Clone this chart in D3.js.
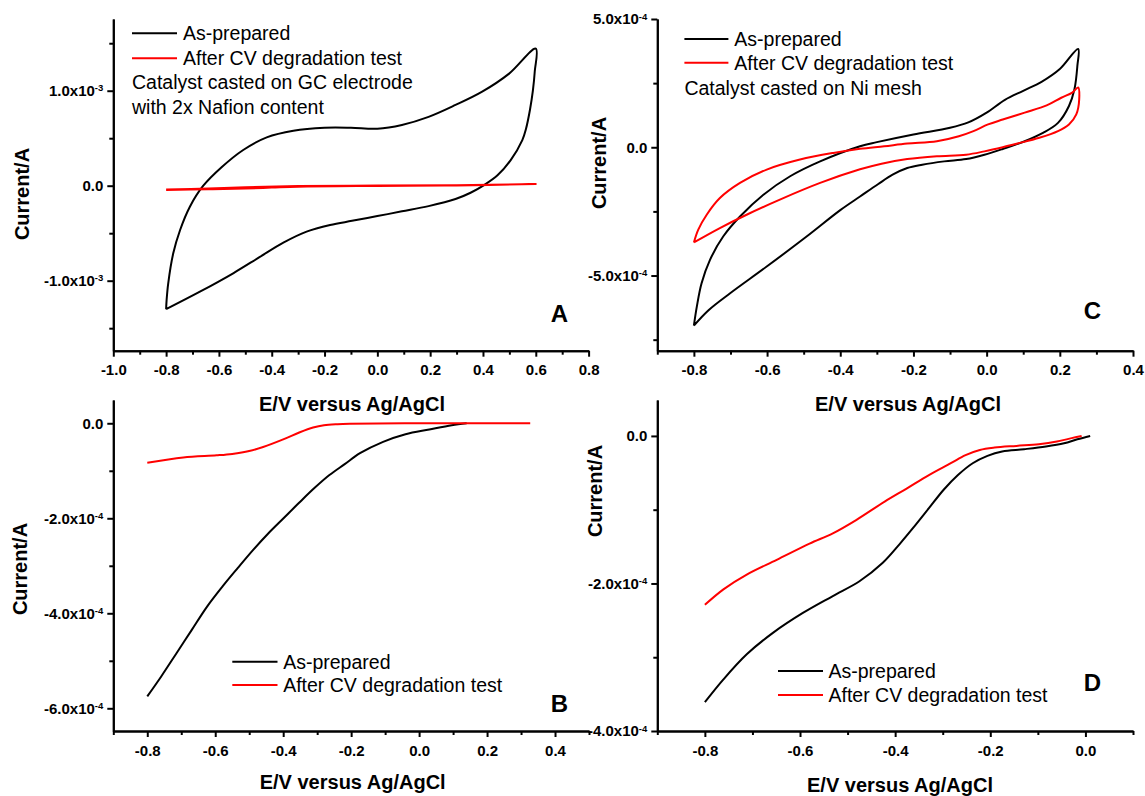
<!DOCTYPE html>
<html><head><meta charset="utf-8">
<script src="https://cdn.jsdelivr.net/npm/d3@7"></script>
<style>
body{margin:0;background:#fff;}
svg{display:block;}
text{font-family:"Liberation Sans",Arial,Helvetica,sans-serif;fill:#000;}
</style></head><body>
<svg id="chart" width="1145" height="796"></svg>
<script>
// ---------- DATA (E in V vs Ag/AgCl, current in units of 1e-4 A) ----------
const seriesNames = ["As-prepared", "After CV degradation test"];
const xTitle = "E/V versus Ag/AgCl";
const yTitle = "Current/A";

// Panel A: CV, catalyst on GC electrode (2x Nafion)
const A_prep_E = [-0.8,-0.798,-0.792,-0.773,-0.747,-0.71,-0.66,-0.59,-0.508,-0.419,-0.318,-0.2,-0.1,0.0,0.093,0.194,0.296,0.397,0.499,0.6,
                  0.596,0.589,0.578,0.563,0.549,0.505,0.455,0.404,0.353,0.296,0.194,0.093,0.0,-0.096,-0.179,-0.268,-0.356,-0.445,-0.546,-0.672,-0.8];
const A_prep_I = [-13.0,-12.0,-10.27,-7.12,-4.66,-2.21,-0.03,1.94,3.76,5.09,5.79,6.1,6.1,6.0,6.4,7.25,8.5,9.9,11.8,14.43,
                  12.0,10.0,8.0,6.0,4.8,2.7,1.1,0.07,-0.74,-1.4,-2.15,-2.7,-3.2,-3.7,-4.14,-4.84,-6.0,-7.5,-9.22,-11.16,-13.0];
const A_deg_E = [-0.8,-0.64,-0.5,-0.3,0.0,0.3,0.6,0.3,0.0,-0.3,-0.4,-0.5,-0.64,-0.8];
const A_deg_I = [-0.4,-0.3,-0.15,-0.03,0.02,0.06,0.18,0.03,-0.02,-0.1,-0.2,-0.3,-0.38,-0.45];
const A_xTicks = [-1.0,-0.8,-0.6,-0.4,-0.2,0.0,0.2,0.4,0.6,0.8];
const A_xMinor = [-0.9,-0.7,-0.5,-0.3,-0.1,0.1,0.3,0.5,0.7];
const A_yTicks = [-10, 0, 10];
const A_yLabels = [["-1.0x10","-3"],["0.0",""],["1.0x10","-3"]];
const A_yMinor = [-15,-5,5,15];
const A_note = ["Catalyst casted on GC electrode", "with 2x Nafion content"];

// Panel C: CV, catalyst on Ni mesh
const C_prep_E = [-0.8,-0.792,-0.779,-0.756,-0.72,-0.674,-0.61,-0.537,-0.455,-0.346,-0.3,-0.2,-0.1,-0.05,0.0,0.05,0.1,0.15,0.2,0.25,
                  0.248,0.24,0.225,0.195,0.154,0.104,0.044,-0.006,-0.056,-0.116,-0.176,-0.217,-0.257,-0.297,-0.346,-0.4,-0.492,-0.601,-0.701,-0.76,-0.8];
const C_prep_I = [-6.95,-6.21,-5.30,-4.39,-3.48,-2.70,-1.85,-1.13,-0.55,0.04,0.2,0.5,0.76,0.97,1.35,1.85,2.2,2.55,3.05,3.83,
                  3.18,2.26,1.61,0.95,0.56,0.235,-0.065,-0.29,-0.46,-0.55,-0.68,-0.81,-1.07,-1.44,-1.92,-2.45,-3.48,-4.65,-5.69,-6.35,-6.95];
const C_deg_E = [-0.8,-0.788,-0.765,-0.729,-0.674,-0.601,-0.51,-0.419,-0.346,-0.28,-0.217,-0.136,-0.076,-0.036,0.004,0.044,0.104,0.164,0.204,0.234,0.25,
                 0.253,0.245,0.225,0.195,0.144,0.084,0.044,-0.006,-0.056,-0.136,-0.217,-0.287,-0.346,-0.455,-0.565,-0.656,-0.729,-0.8];
const C_deg_I = [-3.71,-3.21,-2.63,-1.98,-1.39,-0.87,-0.48,-0.22,-0.06,0.04,0.144,0.235,0.43,0.63,0.89,1.08,1.35,1.63,1.93,2.13,2.33,
                 1.87,1.28,0.89,0.63,0.37,0.144,0.0,-0.16,-0.29,-0.35,-0.46,-0.64,-0.86,-1.39,-2.04,-2.63,-3.15,-3.71];
const C_xTicks = [-0.8,-0.6,-0.4,-0.2,0.0,0.2,0.4];
const C_xMinor = [-0.9,-0.7,-0.5,-0.3,-0.1,0.1,0.3];
const C_yTicks = [-5, 0, 5];
const C_yLabels = [["-5.0x10","-4"],["0.0",""],["5.0x10","-4"]];
const C_yMinor = [-7.5,-2.5,2.5];
const C_note = ["Catalyst casted on Ni mesh"];

// Panel B: LSV, GC electrode
const B_prep_E = [-0.8,-0.759,-0.714,-0.669,-0.624,-0.579,-0.534,-0.489,-0.444,-0.399,-0.354,-0.309,-0.264,-0.219,-0.174,-0.106,-0.04,0.03,0.096,0.14];
const B_prep_I = [-5.75,-5.33,-4.84,-4.35,-3.86,-3.44,-3.05,-2.67,-2.32,-2.0,-1.68,-1.37,-1.09,-0.86,-0.63,-0.39,-0.23,-0.13,-0.04,0.0];
const B_deg_E = [-0.8,-0.694,-0.596,-0.55,-0.5,-0.459,-0.4,-0.351,-0.312,-0.28,-0.24,-0.204,0.032,0.327];
const B_deg_I = [-0.83,-0.72,-0.675,-0.645,-0.585,-0.5,-0.34,-0.19,-0.09,-0.04,-0.018,-0.01,0.0,0.0];
const B_xTicks = [-0.8,-0.6,-0.4,-0.2,0.0,0.2,0.4];
const B_xMinor = [-0.9,-0.7,-0.5,-0.3,-0.1,0.1,0.3,0.5];
const B_yTicks = [-6,-4,-2,0];
const B_yLabels = [["-6.0x10","-4"],["-4.0x10","-4"],["-2.0x10","-4"],["0.0",""]];
const B_yMinor = [-5,-3,-1];

// Panel D: LSV, Ni mesh
const D_prep_E = [-0.8,-0.761,-0.712,-0.657,-0.594,-0.531,-0.475,-0.426,-0.391,-0.36,-0.329,-0.298,-0.268,-0.237,-0.206,-0.175,-0.129,-0.083,-0.045,-0.017,0.01];
const D_prep_I = [-3.61,-3.30,-2.96,-2.67,-2.40,-2.17,-1.97,-1.72,-1.47,-1.23,-0.98,-0.73,-0.53,-0.37,-0.27,-0.21,-0.18,-0.144,-0.10,-0.045,0.0];
const D_deg_E = [-0.8,-0.761,-0.712,-0.649,-0.58,-0.531,-0.482,-0.422,-0.375,-0.329,-0.283,-0.252,-0.222,-0.191,-0.145,-0.098,-0.06,-0.029,-0.008];
const D_deg_I = [-2.29,-2.08,-1.88,-1.68,-1.46,-1.32,-1.14,-0.89,-0.71,-0.53,-0.37,-0.26,-0.19,-0.158,-0.135,-0.113,-0.077,-0.03,0.0];
const D_xTicks = [-0.8,-0.6,-0.4,-0.2,0.0];
const D_xMinor = [-0.9,-0.7,-0.5,-0.3,-0.1,0.1];
const D_yTicks = [-4,-2,0];
const D_yLabels = [["-4.0x10","-4"],["-2.0x10","-4"],["0.0",""]];
const D_yMinor = [-3,-1];

// ---------- LAYOUT ----------
const colors = ["#000000", "#ff0000"];
const zip = (E, I) => E.map((e, i) => [e, I[i]]);

const panels = [
  {letter:"A", left:113.3, right:588.6, top:19, bottom:350.7, xDom:[-1.0,0.8], yDom:[-17.37,17.55],
   xTicks:A_xTicks, xMinor:A_xMinor, yTicks:A_yTicks, yLabels:A_yLabels, yMinor:A_yMinor,
   series:[zip(A_prep_E,A_prep_I), zip(A_deg_E,A_deg_I)],
   leg:{x1:132, x2:177, y:33.3, dy:25, tx:183}, note:A_note, noteX:132, noteY:82.3,
   letterPos:[559.5,313], xTitlePos:[352,403.5], yTitlePos:[22,194]},
  {letter:"C", left:657.3, right:1133, top:19, bottom:350.7, xDom:[-0.9,0.4], yDom:[-7.93,5.0],
   xTicks:C_xTicks, xMinor:C_xMinor, yTicks:C_yTicks, yLabels:C_yLabels, yMinor:C_yMinor,
   series:[zip(C_prep_E,C_prep_I), zip(C_deg_E,C_deg_I)],
   leg:{x1:684.4, x2:728.4, y:39, dy:23.7, tx:734.3}, note:C_note, noteX:684.4, noteY:88.3,
   letterPos:[1092.5,310], xTitlePos:[908,403.5], yTitlePos:[598.5,163]},
  {letter:"B", left:113.3, right:589, top:400, bottom:731, xDom:[-0.9,0.5], yDom:[-6.478,0.49],
   xTicks:B_xTicks, xMinor:B_xMinor, yTicks:B_yTicks, yLabels:B_yLabels, yMinor:B_yMinor,
   series:[zip(B_prep_E,B_prep_I), zip(B_deg_E,B_deg_I)],
   leg:{x1:232.3, x2:277.5, y:661.7, dy:23.3, tx:283.2}, note:[], noteX:0, noteY:0,
   letterPos:[559.5,703.3], xTitlePos:[352.7,781.7], yTitlePos:[20,569]},
  {letter:"D", left:657.3, right:1133, top:400, bottom:731, xDom:[-0.9,0.1], yDom:[-4.0,0.487],
   xTicks:D_xTicks, xMinor:D_xMinor, yTicks:D_yTicks, yLabels:D_yLabels, yMinor:D_yMinor,
   series:[zip(D_prep_E,D_prep_I), zip(D_deg_E,D_deg_I)],
   leg:{x1:778, x2:823, y:671, dy:24, tx:828.5}, note:[], noteX:0, noteY:0,
   letterPos:[1092.5,682.7], xTitlePos:[900,785], yTitlePos:[595,491]}
];

const svg = d3.select("#chart");
const fmtX = v => (Math.abs(v) < 1e-9 ? 0 : v).toFixed(1);

panels.forEach(p => {
  const g = svg.append("g");
  const x = d3.scaleLinear().domain(p.xDom).range([p.left, p.right]);
  const y = d3.scaleLinear().domain(p.yDom).range([p.bottom, p.top]);

  // curves
  const line = d3.line().x(d => x(d[0])).y(d => y(d[1])).curve(d3.curveCatmullRom.alpha(0.5));
  p.series.forEach((s, i) => {
    g.append("path").attr("d", line(s)).attr("fill", "none")
      .attr("stroke", colors[i]).attr("stroke-width", 2).attr("stroke-linejoin", "round");
  });

  // x axis
  const xMin = g.append("g").attr("transform", `translate(0,${p.bottom})`)
    .call(d3.axisBottom(x).tickValues(p.xMinor).tickSize(4).tickSizeOuter(0).tickFormat(""));
  const xMaj = g.append("g").attr("transform", `translate(0,${p.bottom})`)
    .call(d3.axisBottom(x).tickValues(p.xTicks).tickSize(6).tickSizeOuter(0).tickFormat(fmtX));
  xMaj.attr("font-size", null).attr("font-family", null);
  xMaj.selectAll("text").attr("y", 14).attr("dy", "0.72em")
    .style("font-size", "15px").style("font-weight", "bold").attr("fill", "#000");

  // y axis
  const yMin = g.append("g").attr("transform", `translate(${p.left},0)`)
    .call(d3.axisLeft(y).tickValues(p.yMinor).tickSize(4).tickSizeOuter(0).tickFormat(""));
  const yMaj = g.append("g").attr("transform", `translate(${p.left},0)`)
    .call(d3.axisLeft(y).tickValues(p.yTicks).tickSize(6).tickSizeOuter(0).tickFormat(""));
  [xMin, xMaj, yMin, yMaj].forEach(a => {
    a.select(".domain").attr("stroke", "#000").attr("stroke-width", 2);
    a.selectAll(".tick line").attr("stroke", "#000").attr("stroke-width", 2);
  });
  // y tick labels with superscript exponent
  p.yTicks.forEach((v, i) => {
    const t = g.append("text").attr("x", p.left - 10).attr("y", y(v)).attr("dy", "0.36em")
      .attr("text-anchor", "end").style("font-size", "15px").style("font-weight", "bold");
    t.append("tspan").text(p.yLabels[i][0]);
    if (p.yLabels[i][1]) {
      t.append("tspan").attr("dy", "-0.5em").style("font-size", "9.5px").text(p.yLabels[i][1]);
    }
  });

  // axis titles
  g.append("text").attr("x", p.xTitlePos[0]).attr("y", p.xTitlePos[1]).attr("dy", "0.36em")
    .attr("text-anchor", "middle").style("font-size", "20px").style("font-weight", "bold").text(xTitle);
  g.append("text").attr("transform", `translate(${p.yTitlePos[0]},${p.yTitlePos[1]}) rotate(-90)`)
    .attr("dy", "0.36em").attr("text-anchor", "middle")
    .style("font-size", "20px").style("font-weight", "bold").text(yTitle);

  // legend
  seriesNames.forEach((name, i) => {
    const ly = p.leg.y + i * p.leg.dy;
    g.append("line").attr("x1", p.leg.x1).attr("x2", p.leg.x2).attr("y1", ly).attr("y2", ly)
      .attr("stroke", colors[i]).attr("stroke-width", 2);
    g.append("text").attr("x", p.leg.tx).attr("y", ly).attr("dy", "0.36em")
      .style("font-size", "19.5px").text(name);
  });
  p.note.forEach((s, i) => {
    g.append("text").attr("x", p.noteX).attr("y", p.noteY + i * 25).attr("dy", "0.36em")
      .style("font-size", "19.5px").text(s);
  });

  // panel letter
  g.append("text").attr("x", p.letterPos[0]).attr("y", p.letterPos[1]).attr("dy", "0.36em")
    .attr("text-anchor", "middle").style("font-size", "24px").style("font-weight", "bold").text(p.letter);
});
</script>
</body></html>
